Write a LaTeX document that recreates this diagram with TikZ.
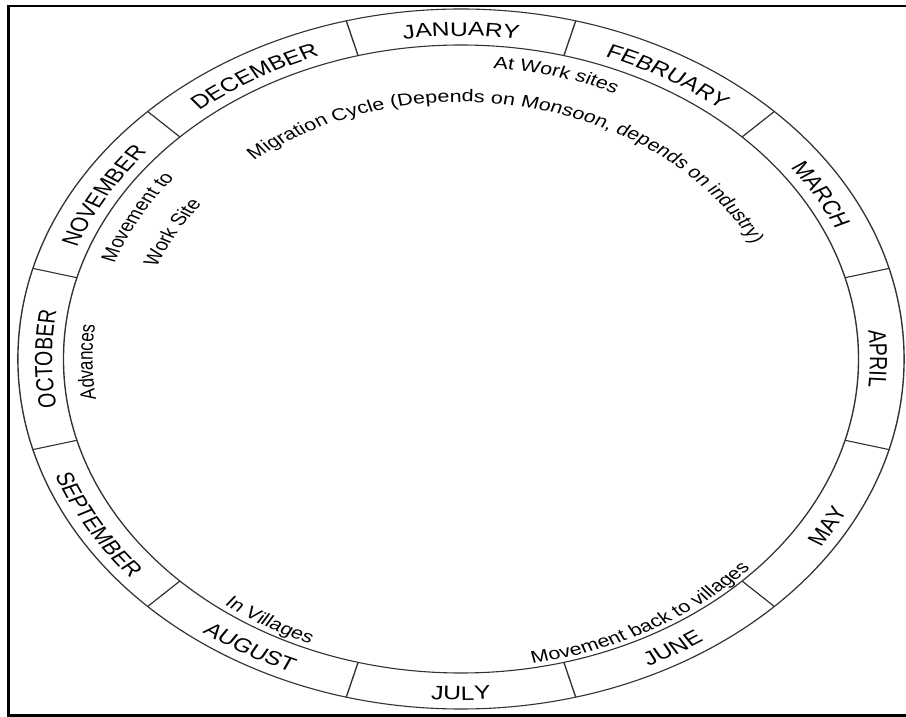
\documentclass[tikz,border=0pt]{standalone}
\usepackage{fontspec}
\setmainfont{Liberation Sans}
\usetikzlibrary{decorations.text}
\newcommand\mfont{\fontsize{19.5}{20}\selectfont}
\newcommand\lfont{\fontsize{17}{18}\selectfont}
\tikzset{
  ring/.style={draw=black!80, line width=1.1pt},
  frameline/.style={draw=black, line width=2.6pt, line cap=rect},
}
% clockwise label (tops outward): #1 centre angle, #2 radius, #3 half span, #4 text
\newcommand\cwlabel[4]{%
  \path[decorate, decoration={text along path, text align=center, text={#4}}]
    (#1+#3:#2pt) arc[start angle=#1+#3, end angle=#1-#3, radius=#2pt];}
% counter-clockwise label (tops inward)
\newcommand\ccwlabel[4]{%
  \path[decorate, decoration={text along path, text align=center, text={#4}}]
    (#1-#3:#2pt) arc[start angle=#1-#3, end angle=#1+#3, radius=#2pt];}
\begin{document}
\begin{tikzpicture}[x=1pt,y=1pt]
\useasboundingbox (-461,-358) rectangle (445,359);
\draw[frameline] (490,352.8) -- (-452.7,352.8) -- (-452.7,-356.3) -- (490,-356.3);
\begin{scope}[transform canvas={xscale=1.266}]
  \draw[ring] (0,0) circle[radius=350pt];
  \draw[ring] (0,0) circle[radius=314pt];
  \foreach \a in {15,45,...,345} \draw[ring] (\a:314pt) -- (\a:350pt);
  % months, upper half
  \cwlabel{180}{323}{15}{|\mfont|OCTOBER}
  \cwlabel{150}{323}{15}{|\mfont|NOVEMBER}
  \cwlabel{120}{323}{15}{|\mfont|DECEMBER}
  \cwlabel{90}{323}{15}{|\mfont|JANUARY}
  \cwlabel{60}{323}{15}{|\mfont|FEBRUARY}
  \cwlabel{30}{323}{15}{|\mfont|MARCH}
  \cwlabel{0}{323}{15}{|\mfont|APRIL}
  % months, lower half
  \ccwlabel{-30}{341}{15}{|\mfont|MAY}
  \ccwlabel{-60}{341}{15}{|\mfont|JUNE}
  \ccwlabel{-90}{341}{15}{|\mfont|JULY}
  \ccwlabel{-120}{341}{15}{|\mfont|AUGUST}
  \ccwlabel{-150}{341}{15}{|\mfont|SEPTEMBER}
  % inner labels
  \path[decorate, decoration={text along path, text={|\lfont|Migration Cycle (Depends on Monsoon, depends on industry)}}]
    (129.5:257pt) arc[start angle=129.5, end angle=10, radius=257pt];
  \cwlabel{75.2}{292}{25}{|\lfont|At Work sites}
  \cwlabel{151}{290}{25}{|\lfont|Movement to}
  \cwlabel{151}{257}{25}{|\lfont|Work Site}
  \cwlabel{180.6}{291}{25}{|\lfont|Advances}
  \ccwlabel{-120}{309}{25}{|\lfont|In Villages}
  \ccwlabel{-61}{310}{30}{|\lfont|Movement back to villages}
\end{scope}
\end{tikzpicture}
\end{document}
